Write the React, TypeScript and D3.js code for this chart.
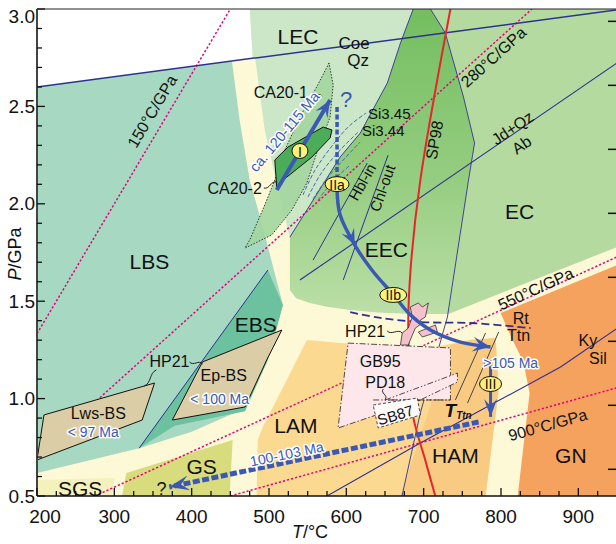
import React from 'react';
import * as d3 from 'd3';

type Pt = [number, number];

// Axis ticks
const temperatureTicks = [200, 300, 400, 500, 600, 700, 800, 900];
const temperatureTickLabels = ['200', '300', '400', '500', '600', '700', '800', '900'];
const pressureTicks = [0.5, 1.0, 1.5, 2.0, 2.5, 3.0];
const pressureTickLabels = ['0.5', '1.0', '1.5', '2.0', '2.5', '3.0'];
const depthTicksKm = [20, 30, 40, 50, 60, 70, 80, 90];
const kmPerGPa = 30.44;

// Geothermal gradients, °C/GPa
const geotherms = [150, 280, 550, 900];

// Metamorphic facies fields (T °C, P GPa)
const whiteField: Pt[] = [[200, 3.0], [475, 3.0], [479, 2.747], [200, 2.6]];
const lbsField: Pt[] = [[200, 2.6], [452, 2.733], [462, 2.43], [475, 2.122], [492, 1.881], [518, 1.48], [498.5, 1.198], [469, 0.95], [400, 0.83], [332, 0.745], [200, 0.618]];
const ebsField: Pt[] = [[332, 0.745], [498.5, 1.66], [518, 1.48], [498.5, 1.198], [469, 0.935], [378, 0.86]];
const lecField: Pt[] = [[475, 3.0], [686.5, 3.0], [670, 2.825], [653, 2.62], [618, 2.363], [592, 2.24], [527, 1.829], [524.5, 1.865], [507.5, 2.148], [494.5, 2.379], [482, 2.748], [479, 2.747]];
const eecField: Pt[] = [[686.5, 3.0], [708.7, 3.0], [728, 2.877], [751.5, 2.548], [765.8, 2.312], [758, 2.122], [732, 1.434], [686.5, 1.434], [640, 1.442], [605, 1.455], [575, 1.472], [553, 1.491], [535, 1.515], [527, 1.557], [527, 1.829], [592, 2.24], [618, 2.363], [653, 2.62], [670, 2.825]];
const ecField: Pt[] = [[708.7, 3.0], [950, 3.0], [950, 1.778], [732, 1.434], [758, 2.122], [765.8, 2.312], [751.5, 2.548], [728, 2.877]];
const gnField: Pt[] = [[799.5, 1.439], [815, 1.301], [829, 1.188], [837, 1.029], [821.6, 0.5], [950, 0.5], [950, 1.686]];
const lamField: Pt[] = [[484, 0.5], [485.5, 0.787], [492, 0.854], [523, 1.095], [549, 1.301], [592, 1.285], [708.7, 1.26], [760.6, 1.301], [793, 1.311], [796.9, 1.044], [780, 0.5]];
const hamField: Pt[] = [[670, 0.5], [734.6, 1.275], [760.6, 1.301], [793, 1.311], [796.9, 1.044], [780, 0.5]];
const gsField: Pt[] = [[310, 0.5], [315.5, 0.618], [453, 0.787], [449, 0.5]];
const sgsField: Pt[] = [[200, 0.5], [200, 0.582], [300, 0.592], [297, 0.5]];

// Reaction lines
const coeQz: Pt[] = [[200, 2.6], [950, 2.995]];
const jdQzAb: Pt[] = [[540, 1.609], [950, 2.723]];
const kySil: Pt[] = [[575, 0.5], [695.7, 0.772], [877, 1.162], [950, 1.36]];
const eecEcBoundary: Pt[] = [[708.7, 3.0], [728, 2.877], [751.5, 2.548], [765.8, 2.312], [758, 2.122], [730.7, 1.419], [695.7, 0.926], [672, 0.5]];
const lecEecBoundary: Pt[] = [[686.5, 3.0], [670, 2.825], [653, 2.62], [618, 2.363], [592, 2.24], [527, 1.829]];
const lbsEbsBoundary: Pt[] = [[332, 0.745], [498.5, 1.66]];
const hblIn: Pt[] = [[557, 1.711], [627, 2.209]];
const chlOut: Pt[] = [[596, 1.609], [654, 2.25]];
const sp98: Pt[] = [[734.6, 3.0], [695.7, 2.122], [683, 1.66], [680, 1.352], [683, 1.095], [686.5, 0.906], [702, 0.685], [715, 0.5]];
const rtTtn: Pt[] = [[605, 1.444], [644, 1.414], [695.7, 1.393], [760.6, 1.388], [838.4, 1.362]];
const ttnLineA: Pt[] = [[741, 0.993], [780, 1.337]];
const ttnLineB: Pt[] = [[756.7, 0.977], [797, 1.342]];

// Si-in-phengite isopleths
const siIsopleths: Pt[][] = [
  [[543.9, 2.045], [559.5, 2.173], [585.4, 2.317], [605, 2.404], [625.6, 2.466]],
  [[550.4, 2.035], [568.5, 2.163], [592, 2.276], [615.2, 2.368]],
  [[556.8, 2.024], [576.3, 2.137], [598.4, 2.235], [617.8, 2.317]],
  [[563.3, 2.019], [584.1, 2.122], [605, 2.199]],
];

// Literature P–T estimates
const ca201: Pt[] = [[577.6, 2.723], [563, 2.61], [540, 2.445], [520.5, 2.276], [507.5, 2.122], [494.5, 1.994], [475, 1.814], [469, 1.773], [503.5, 1.84], [529.5, 1.968], [549, 2.107], [563, 2.276], [579, 2.445], [583, 2.61]];
const stageIField: Pt[] = [[507.5, 2.225], [524.5, 2.291], [570, 2.394], [581.5, 2.379], [579, 2.338], [555.5, 2.24], [523, 2.137], [510, 2.086]];
const lwsBs: Pt[] = [[209, 0.916], [352, 1.08], [336, 0.89], [200, 0.685]];
const epBs: Pt[] = [[375, 0.89], [414, 1.188], [516.6, 1.352], [497, 1.198], [469, 0.957]];
const hp21: Pt[] = [[670, 1.275], [672.3, 1.337], [680.1, 1.362], [685.3, 1.419], [682.7, 1.47], [693.1, 1.491], [698.3, 1.47], [706.1, 1.491], [702.2, 1.419], [695.7, 1.403], [698.3, 1.388], [689.2, 1.362], [685.3, 1.326], [680.1, 1.275]];
const hp21b: Pt[] = [[693.1, 1.342], [715.2, 1.378], [717.7, 1.342], [698.3, 1.316]];
const gb95: Pt[] = [[602.3, 1.285], [734.6, 1.26], [734.6, 0.993], [695.7, 0.993], [589.3, 0.849]];
const pd18: Pt[] = [[650.3, 0.993], [743.7, 1.131], [743.7, 1.085], [695.7, 0.993]];
const pd18Base: Pt[] = [[634.7, 0.993], [734.6, 0.993]];
const sb87: Pt[] = [[634.7, 0.967], [691.8, 1.003], [695.7, 0.916], [641.2, 0.849]];

// P–T path segments
const pathStageI: Pt[] = [[510, 2.071], [579, 2.533]];
const pathStageIIaUp: Pt[] = [[588, 2.497], [588, 2.132]];
const pathStageII: Pt[] = [[588, 2.071], [592, 1.942], [611, 1.788], [633, 1.66], [661, 1.532], [683, 1.429], [708.7, 1.352], [747.6, 1.29], [786.5, 1.265]];
const pathStageIII: Pt[] = [[786.5, 1.198], [786.5, 0.906]];
const pathExhumation: Pt[] = [[771, 0.88], [371, 0.546]];

const FONT = "'Liberation Sans', Arial, Helvetica, sans-serif";
const NAVY = '#2e3192';
const BLUE = '#3b59b4';
const PINK = '#e4007f';

export default function App() {
  const W = 616, H = 544;
  const x = d3.scaleLinear().domain([200, 950]).range([37, 617]);
  const y = d3.scaleLinear().domain([0.5, 3.0]).range([496, 9]);
  const closed = (pts: Pt[]) => d3.line<Pt>().x(d => x(d[0])).y(d => y(d[1])).curve(d3.curveLinearClosed)(pts) as string;
  const open = (pts: Pt[], curve: any = d3.curveLinear) => d3.line<Pt>().x(d => x(d[0])).y(d => y(d[1])).curve(curve)(pts) as string;
  const px = (p: Pt): [number, number] => [x(p[0]), y(p[1])];

  const arrowHead = (tip: [number, number], from: [number, number], len: number, wid: number) => {
    const a = Math.atan2(tip[1] - from[1], tip[0] - from[0]);
    return [[0, 0], [-len, -wid / 2], [-len * 0.6, 0], [-len, wid / 2]]
      .map(([u, v]) => [tip[0] + u * Math.cos(a) - v * Math.sin(a), tip[1] + u * Math.sin(a) + v * Math.cos(a)])
      .map(p => p.join(',')).join(' ');
  };

  const squiggle = (a: Pt, b: Pt) => {
    const [x1, y1] = px(a), [x2, y2] = px(b);
    const dx = x2 - x1, dy = y2 - y1, L = Math.hypot(dx, dy);
    const nx = -dy / L * 4, ny = dx / L * 4;
    return `M${x1},${y1} C${x1 + dx / 3 + nx},${y1 + dy / 3 + ny} ${x1 + 2 * dx / 3 - nx},${y1 + 2 * dy / 3 - ny} ${x2},${y2}`;
  };

  const angleOf = (a: Pt, b: Pt) => Math.atan2(y(b[1]) - y(a[1]), x(b[0]) - x(a[0])) * 180 / Math.PI;

  const Txt = ({ t, p, size = 16, rot = 0, fill = '#111', halo = false, anchor = 'middle', italic = false, children }: any) => (
    <text transform={`translate(${x(t)},${y(p)}) rotate(${rot})`} textAnchor={anchor} dominantBaseline="central"
      fontSize={size} fill={fill} fontFamily={FONT} fontStyle={italic ? 'italic' : 'normal'}
      stroke={halo ? '#fff' : 'none'} strokeWidth={halo ? 3 : 0} strokeLinejoin="round" paintOrder="stroke">{children}</text>
  );

  const Badge = ({ t, p, rx, label }: any) => (
    <g>
      <ellipse cx={x(t)} cy={y(p)} rx={rx} ry={7.5} fill="#fdf17a" stroke="#111" strokeWidth={1} />
      <text x={x(t)} y={y(p) + 0.5} textAnchor="middle" dominantBaseline="central" fontSize={14} fontFamily={FONT} fill="#111">{label}</text>
    </g>
  );

  const midIdx = 2;
  const midTip = px(pathStageII[midIdx]);
  const midFrom = px(pathStageII[midIdx - 1]);
  const endII = px(pathStageII[pathStageII.length - 1]);
  const preEndII = px(pathStageII[pathStageII.length - 2]);

  return (
    <svg width={W} height={H} style={{ position: 'absolute', left: 0, top: 0, background: '#fff' }}>
      <defs>
        <clipPath id="plotClip">
          <rect x={x(200)} y={y(3.0)} width={x(950) - x(200)} height={y(0.5) - y(3.0)} />
        </clipPath>
        <linearGradient id="eecGrad" gradientUnits="userSpaceOnUse" x1={0} y1={y(3.0)} x2={0} y2={y(1.43)}>
          <stop offset="0" stopColor="#74be5f" />
          <stop offset="0.55" stopColor="#95cd80" />
          <stop offset="1" stopColor="#bcdfa8" />
        </linearGradient>
      </defs>

      <g clipPath="url(#plotClip)">
        <rect x={x(200)} y={y(3.0)} width={x(950) - x(200)} height={y(0.5) - y(3.0)} fill="#fdf8d6" />
        <path d={closed(whiteField)} fill="#ffffff" />
        <path d={closed(lbsField)} fill="#a7d8c2" />
        <path d={closed(ebsField)} fill="#6cc19e" />
        <path d={closed(lecField)} fill="#cbe7c7" />
        <path d={closed(eecField)} fill="url(#eecGrad)" />
        <path d={closed(ecField)} fill="#b4da9f" />
        <path d={closed(lamField)} fill="#fcd991" />
        <path d={closed(hamField)} fill="#f9cb82" />
        <path d={closed(gnField)} fill="#f5a25e" />
        <path d={closed(gsField)} fill="#d9dc7d" />
        <path d={closed(sgsField)} fill="#f5f1bd" />

        {/* geotherms */}
        {geotherms.map(k => (
          <path key={k} d={open([[k * 0.5, 0.5], [k * 3.0, 3.0]])} stroke={PINK} strokeWidth={1.5} strokeDasharray="2.2,2" fill="none" />
        ))}

        {/* reaction and field boundary lines */}
        <path d={open(coeQz)} stroke={NAVY} strokeWidth={1.5} fill="none" />
        <path d={open(jdQzAb)} stroke={NAVY} strokeWidth={1.1} fill="none" />
        <path d={open(kySil)} stroke={NAVY} strokeWidth={1.1} fill="none" />
        <path d={open(eecEcBoundary)} stroke={NAVY} strokeWidth={0.9} fill="none" />
        <path d={open(lecEecBoundary)} stroke={NAVY} strokeWidth={0.9} fill="none" />
        <path d={open(lbsEbsBoundary)} stroke={NAVY} strokeWidth={1} fill="none" />
        <path d={open(hblIn)} stroke={NAVY} strokeWidth={1} fill="none" />
        <path d={open(chlOut)} stroke={NAVY} strokeWidth={1} fill="none" />
        <path d={open(sp98, d3.curveCatmullRom)} stroke="#e5262b" strokeWidth={2} fill="none" />
        <path d={open(rtTtn, d3.curveCatmullRom)} stroke={NAVY} strokeWidth={1.8} strokeDasharray="8,4" fill="none" />
        <path d={open(ttnLineA)} stroke="#444" strokeWidth={1} fill="none" />
        <path d={open(ttnLineB)} stroke="#444" strokeWidth={1} fill="none" />

        {/* literature estimates */}
        <path d={closed(lwsBs)} fill="#dbcea6" stroke="#111" strokeWidth={1} />
        <path d={closed(epBs)} fill="#dbcea6" stroke="#111" strokeWidth={1} />
        <path d={closed(ca201)} fill="#a3d6a0" fillOpacity={0.9} stroke="#111" strokeWidth={0.8} strokeDasharray="1.5,1.5" />
        <path d={closed(stageIField)} fill="#4bac59" stroke="#111" strokeWidth={1} />
        {siIsopleths.map((c, i) => (
          <path key={i} d={open(c, d3.curveCatmullRom)} stroke={BLUE} strokeWidth={0.9} strokeDasharray="4,2" fill="none" />
        ))}
        <path d={closed(gb95)} fill="#fde7ea" stroke="#222" strokeWidth={0.8} strokeDasharray="6,2,1.5,2" />
        <path d={closed(pd18)} fill="#fde7ea" stroke="#222" strokeWidth={0.8} strokeDasharray="6,2,1.5,2,1.5,2" />
        <path d={open(pd18Base)} stroke="#222" strokeWidth={0.8} strokeDasharray="6,2,1.5,2,1.5,2" fill="none" />
        <path d={closed(sb87)} fill="#fffafa" stroke="#222" strokeWidth={0.8} strokeDasharray="3,2" />
        <path d={closed(hp21)} fill="#f5c1cd" stroke="#333" strokeWidth={0.8} />
        <path d={closed(hp21b)} fill="#f5c1cd" stroke="#333" strokeWidth={0.8} />

        {/* P–T path */}
        <path d={open(pathStageI)} stroke={BLUE} strokeWidth={4} fill="none" />
        <polygon points={arrowHead(px(pathStageI[1]), px(pathStageI[0]), 17, 14)} fill={BLUE} />
        <path d={open(pathStageIIaUp)} stroke={BLUE} strokeWidth={3.5} strokeDasharray="5,2.5" fill="none" />
        <path d={open(pathStageII, d3.curveCatmullRom)} stroke={BLUE} strokeWidth={3.5} fill="none" />
        <polygon points={arrowHead(midTip, midFrom, 16, 14)} fill={BLUE} />
        <polygon points={arrowHead(endII, preEndII, 18, 15)} fill={BLUE} />
        <path d={open(pathStageIII)} stroke={BLUE} strokeWidth={3} fill="none" />
        <polygon points={arrowHead(px(pathStageIII[1]), px(pathStageIII[0]), 18, 13)} fill={BLUE} />
        <path d={open(pathExhumation)} stroke={BLUE} strokeWidth={5} strokeDasharray="7,2.5" fill="none" />
        <polygon points={arrowHead(px(pathExhumation[1]), px(pathExhumation[0]), 20, 15)} fill={BLUE} />
      </g>

      {/* leader lines */}
      <g stroke="#111" strokeWidth={0.9} fill="none">
        <path d={squiggle([556.8, 2.574], [568.5, 2.548])} />
        <path d={squiggle([493.3, 2.081], [510.1, 2.112])} />
        <path d={squiggle([397.2, 1.188], [414.1, 1.178])} />
        <path d={squiggle([354.4, 1.147], [338.8, 1.065])} />
        <path d={squiggle([652.9, 1.347], [672.3, 1.337])} />
        <path d={squiggle([647.7, 1.049], [650.3, 0.996])} />
      </g>

      {/* field names */}
      <Txt t={537.4} p={2.861} size={21}>LEC</Txt>
      <Txt t={610} p={2.825} size={17}>Coe</Txt>
      <Txt t={615.2} p={2.738} size={17}>Qz</Txt>
      <Txt t={345.3} p={1.706} size={21}>LBS</Txt>
      <Txt t={482.9} p={1.378} size={21}>EBS</Txt>
      <Txt t={651.6} p={1.763} size={21}>EEC</Txt>
      <Txt t={824.1} p={1.958} size={21}>EC</Txt>
      <Txt t={534.8} p={0.864} size={21}>LAM</Txt>
      <Txt t={741.1} p={0.71} size={21}>HAM</Txt>
      <Txt t={890.3} p={0.71} size={21}>GN</Txt>
      <Txt t={412.8} p={0.649} size={21}>GS</Txt>
      <Txt t={255.8} p={0.536} size={21}>SGS</Txt>
      <Txt t={279.2} p={0.921} size={16}>Lws-BS</Txt>
      <Txt t={272.7} p={0.829} size={14} fill={BLUE} halo>&lt; 97 Ma</Txt>
      <Txt t={441.4} p={1.121} size={16}>Ep-BS</Txt>
      <Txt t={436.2} p={0.998} size={14} fill={BLUE} halo>&lt; 100 Ma</Txt>
      <Txt t={371.3} p={1.188} size={16}>HP21</Txt>
      <Txt t={624.3} p={1.347} size={16}>HP21</Txt>
      <Txt t={643.8} p={1.193} size={16}>GB95</Txt>
      <Txt t={650.3} p={1.085} size={16}>PD18</Txt>
      <Txt t={663.3} p={0.916} size={15} rot={-17}>SB87</Txt>
      <Txt t={825.4} p={1.409} size={16}>Rt</Txt>
      <Txt t={822.8} p={1.326} size={16}>Ttn</Txt>
      <Txt t={912.4} p={1.296} size={16}>Ky</Txt>
      <Txt t={925.4} p={1.208} size={16}>Sil</Txt>
      <text x={x(734.6)} y={y(0.941)} textAnchor="middle" dominantBaseline="central" fontFamily={FONT} fontSize={19} fontWeight="bold" fontStyle="italic" fill="#111">T</text>
      <text x={x(742)} y={y(0.915)} dominantBaseline="central" fontFamily={FONT} fontSize={10} fontWeight="bold" fontStyle="italic" fill="#111">Ttn</text>
      <Txt t={815} p={2.389} size={16} rot={angleOf(jdQzAb[0], jdQzAb[1])}>Jd+Qz</Txt>
      <Txt t={826.7} p={2.302} size={16} rot={angleOf(jdQzAb[0], jdQzAb[1])}>Ab</Txt>
      <Txt t={713.9} p={2.327} size={16} rot={-80}>SP98</Txt>
      <Txt t={620.4} p={2.112} size={15} rot={angleOf(hblIn[0], hblIn[1])}>Hbl-in</Txt>
      <Txt t={646.4} p={2.081} size={15} rot={angleOf(chlOut[0], chlOut[1])}>Chl-out</Txt>
      <Txt t={655.5} p={2.461} size={15}>Si3.45</Txt>
      <Txt t={647.7} p={2.374} size={15}>Si3.44</Txt>
      <Txt t={515.3} p={2.569} size={16}>CA20-1</Txt>
      <Txt t={455.6} p={2.076} size={16}>CA20-2</Txt>

      {/* geotherm labels */}
      <Txt t={349} p={2.475} size={16} rot={angleOf([150 * 1, 1], [150 * 3, 3])}>150°C/GPa</Txt>
      <Txt t={790.4} p={2.753} size={16} rot={angleOf([280 * 1, 1], [280 * 3, 3])}>280°C/GPa</Txt>
      <Txt t={844.9} p={1.563} size={16} rot={angleOf([550 * 1, 1], [550 * 1.7, 1.7])}>550°C/GPa</Txt>
      <Txt t={860.5} p={0.864} size={16} rot={angleOf([900 * 0.5, 0.5], [900 * 1, 1])}>900°C/GPa</Txt>

      {/* ages */}
      <Txt t={520} p={2.37} size={14.5} fill={BLUE} halo rot={-50}>ca. 120-115 Ma</Txt>
      <Txt t={523.1} p={0.716} size={14} fill={BLUE} halo rot={angleOf(pathExhumation[1], pathExhumation[0])}>100-103 Ma</Txt>
      <Txt t={812.5} p={1.183} size={14} fill={BLUE} halo>&gt;105 Ma</Txt>
      <Txt t={599.7} p={2.533} size={22} fill={BLUE}>?</Txt>
      <Txt t={360.9} p={0.536} size={18}>?</Txt>

      <Badge t={540} p={2.271} rx={8} label="I" />
      <Badge t={588} p={2.101} rx={12} label="IIa" />
      <Badge t={660.7} p={1.532} rx={13.5} label="IIb" />
      <Badge t={786.5} p={1.075} rx={11} label="III" />

      {/* axes */}
      <line x1={x(200)} x2={x(950)} y1={y(3.0)} y2={y(3.0)} stroke="#222" strokeWidth={1} />
      <line x1={x(200)} x2={x(950)} y1={y(0.5)} y2={y(0.5)} stroke="#111" strokeWidth={1.5} />
      <line x1={x(200)} x2={x(200)} y1={y(3.0)} y2={y(0.5)} stroke="#444" strokeWidth={2} />
      {d3.range(200, 951, 25).map(t => (
        <line key={'xt' + t} x1={x(t)} x2={x(t)} y1={y(0.5)} y2={y(0.5) - (t % 100 === 0 ? 8 : 5)} stroke="#111" strokeWidth={1.3} />
      ))}
      {d3.range(5, 31).map(i => i / 10).map(p => (
        <line key={'yt' + p} x1={x(200)} x2={x(200) + (Math.round(p * 10) % 5 === 0 ? 8 : 5)} y1={y(p)} y2={y(p)} stroke="#111" strokeWidth={1.3} />
      ))}
      {depthTicksKm.map(km => (
        <line key={'dk' + km} x1={x(950) - 9} x2={x(950)} y1={y(km / kmPerGPa - 0.02)} y2={y(km / kmPerGPa - 0.02)} stroke="#111" strokeWidth={1.5} />
      ))}
      {temperatureTicks.map((t, i) => (
        <text key={'xl' + t} x={x(t) + (i === 0 ? 8 : 0)} y={516} textAnchor="middle" dominantBaseline="central" fontFamily={FONT} fontSize={19} fill="#111">{temperatureTickLabels[i]}</text>
      ))}
      {pressureTicks.map((p, i) => (
        <text key={'yl' + p} x={35} y={Math.max(y(p), 16.5)} textAnchor="end" dominantBaseline="central" fontFamily={FONT} fontSize={19} fill="#111">{pressureTickLabels[i]}</text>
      ))}
      <text transform={`translate(15,254) rotate(-90)`} textAnchor="middle" dominantBaseline="central" fontFamily={FONT} fontSize={18} fill="#111">
        <tspan fontStyle="italic">P</tspan>/GPa
      </text>
      <text x={310} y={532} textAnchor="middle" dominantBaseline="central" fontFamily={FONT} fontSize={18} fill="#111">
        <tspan fontStyle="italic">T</tspan>/°C
      </text>
    </svg>
  );
}
